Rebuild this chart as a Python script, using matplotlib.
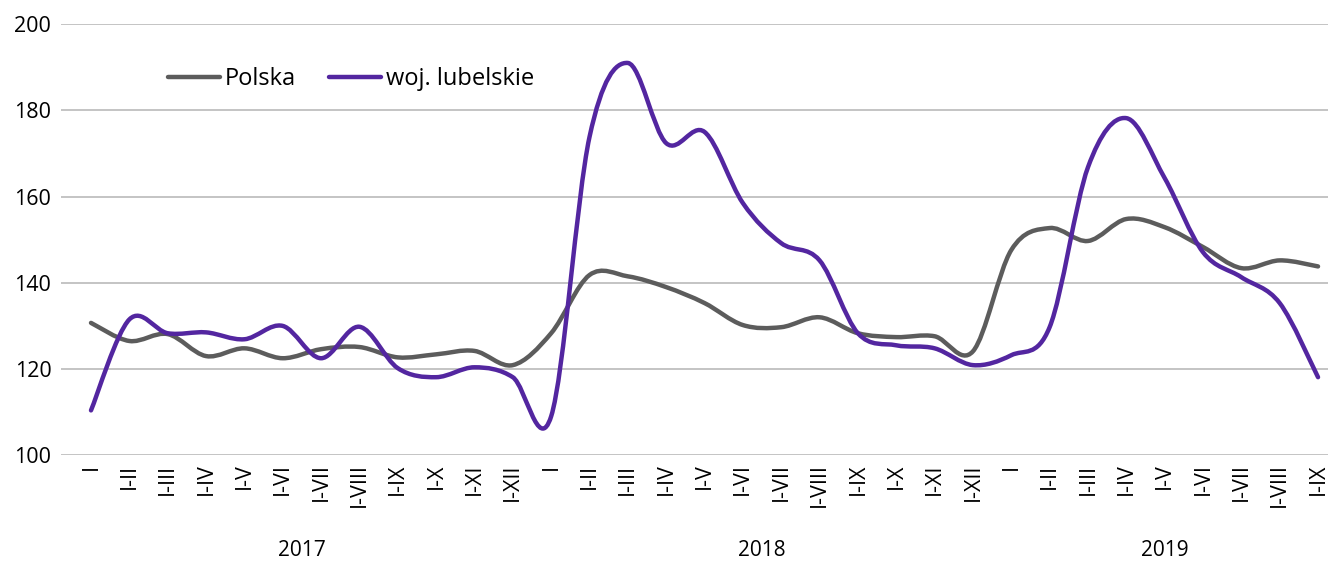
import matplotlib
matplotlib.use("Agg")
import matplotlib.pyplot as plt
from matplotlib.path import Path
from matplotlib.patches import PathPatch
from matplotlib.lines import Line2D
import numpy as np

plt.rcParams['font.family'] = ['Open Sans', 'DejaVu Sans']

months = ['I', 'I-II', 'I-III', 'I-IV', 'I-V', 'I-VI', 'I-VII', 'I-VIII',
          'I-IX', 'I-X', 'I-XI', 'I-XII']
labels = months + months + months[:9]
years = ['2017', '2018', '2019']
year_counts = [12, 12, 9]

polska = [130.7, 126.5, 128.1, 123.0, 124.8, 122.5, 124.6, 125.1, 122.7, 123.4,
          124.2, 120.9,
          128.3, 141.8, 141.5, 139.0, 135.3, 130.2, 129.7, 132.0, 128.3, 127.4,
          127.6, 124.1,
          147.6, 152.7, 149.7, 154.8, 152.9, 148.3, 143.4, 145.2, 143.8]
lubelskie = [110.4, 131.5, 128.3, 128.5, 126.9, 130.0, 122.5, 129.8, 120.2, 118.1,
             120.4, 118.1,
             109.0, 173.8, 191.0, 172.4, 175.0, 158.5, 149.2, 145.2, 128.3, 125.5,
             124.8, 120.9,
             123.2, 129.7, 166.8, 178.2, 164.3, 147.1, 141.3, 135.3, 118.1]

GRAY = '#5c5c5c'
PURPLE = '#5326a0'


def smooth_path(ys):
    # excel-like smoothed line: cubic bezier through every point
    pts = np.column_stack([np.arange(len(ys)), ys]).astype(float)
    n = len(pts)
    verts = [pts[0]]
    codes = [Path.MOVETO]
    for i in range(n - 1):
        p0 = pts[max(i - 1, 0)]
        p1 = pts[i]
        p2 = pts[i + 1]
        p3 = pts[min(i + 2, n - 1)]
        c1 = p1 + (p2 - p0) / 6.0
        c2 = p2 - (p3 - p1) / 6.0
        verts += [c1, c2, p2]
        codes += [Path.CURVE4] * 3
    return Path(verts, codes)


fig = plt.figure(figsize=(13.28, 5.62), dpi=100)
ax = fig.add_axes([0.046, 0.19, 0.954, 0.767])

for ys, col in ((polska, GRAY), (lubelskie, PURPLE)):
    ax.add_patch(PathPatch(smooth_path(ys), facecolor='none', edgecolor=col,
                           lw=3.2, capstyle='round', joinstyle='round', zorder=3))

ax.set_xlim(-0.78, len(labels) - 1 + 0.26)
ax.set_ylim(100, 200)
ax.set_yticks(range(100, 201, 20))
ax.grid(axis='y', color='#bfbfbf', lw=1.3)
ax.set_axisbelow(True)
for s in ax.spines.values():
    s.set_visible(False)

ax.set_xticks(range(len(labels)))
ax.set_xticklabels(labels, rotation=90, va='top', ha='center')
ax.tick_params(axis='both', length=0, labelsize=15.5, colors='black')
ax.tick_params(axis='x', pad=6)
ax.tick_params(axis='y', pad=7)

# year labels under the month groups
start = 0
for yr, cnt in zip(years, year_counts):
    center = start + (cnt - 1) / 2
    ax.text(center, -0.221, yr, transform=ax.get_xaxis_transform(),
            ha='center', va='center', fontsize=15)
    start += cnt

handles = [Line2D([], [], color=GRAY, lw=3.2, solid_capstyle='round', label='Polska'),
           Line2D([], [], color=PURPLE, lw=3.2, solid_capstyle='round', label='woj. lubelskie')]
ax.legend(handles=handles, loc='center left', bbox_to_anchor=(0.077, 0.872), ncol=2,
          frameon=False, fontsize=17, handlelength=2.2, handletextpad=0.2,
          columnspacing=1.4, borderaxespad=0)

fig.savefig('out.png', dpi=100)
